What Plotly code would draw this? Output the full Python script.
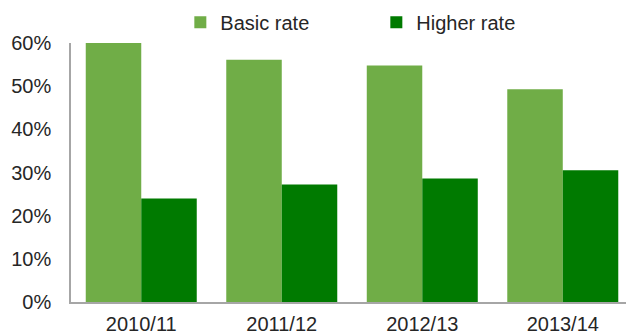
import plotly.graph_objects as go

categories = ["2010/11", "2011/12", "2012/13", "2013/14"]
basic_rate = [60.0, 56.1, 54.8, 49.3]
higher_rate = [24.0, 27.2, 28.6, 30.5]
y_ticks = [0, 10, 20, 30, 40, 50, 60]
y_tick_labels = ["0%", "10%", "20%", "30%", "40%", "50%", "60%"]

FONT = "Liberation Sans, Arial, sans-serif"
TXT = "#262626"

fig = go.Figure()
fig.add_trace(go.Bar(x=categories, y=basic_rate, name="Basic rate",
                     marker=dict(color="#70AD47", line=dict(width=0))))
fig.add_trace(go.Bar(x=categories, y=higher_rate, name="Higher rate",
                     marker=dict(color="#007A00", line=dict(width=0))))

fig.update_layout(
    width=626, height=335,
    margin=dict(l=71, r=0, t=43, b=33, autoexpand=False),
    paper_bgcolor="white", plot_bgcolor="white",
    barmode="group", bargap=0.21, bargroupgap=0,
    font=dict(family=FONT, size=20, color=TXT),
    showlegend=True,
    legend=dict(orientation="h", x=0.197, xanchor="left", y=1.08, yanchor="middle",
                font=dict(family=FONT, size=20, color=TXT),
                entrywidth=151, entrywidthmode="pixels",
                itemwidth=30, bgcolor="rgba(0,0,0,0)"),
)
fig.update_xaxes(range=[-0.5, 3.45], showline=True, linecolor="#A6A6A6", linewidth=1.5,
                 showgrid=False, ticks="outside", ticklen=3, tickcolor="rgba(0,0,0,0)",
                 automargin=False,
                 tickfont=dict(family=FONT, size=20, color=TXT))
fig.update_yaxes(range=[0, 60], tickvals=y_ticks, ticktext=y_tick_labels,
                 showline=True, linecolor="#A6A6A6", linewidth=1.5,
                 showgrid=False, zeroline=False, ticks="outside", ticklen=14,
                 tickcolor="rgba(0,0,0,0)", automargin=False,
                 tickfont=dict(family=FONT, size=20, color=TXT))

fig.write_html("out.html", config={"displayModeBar": False},
               post_script="document.body.style.margin='0';document.body.style.overflow='hidden';")
